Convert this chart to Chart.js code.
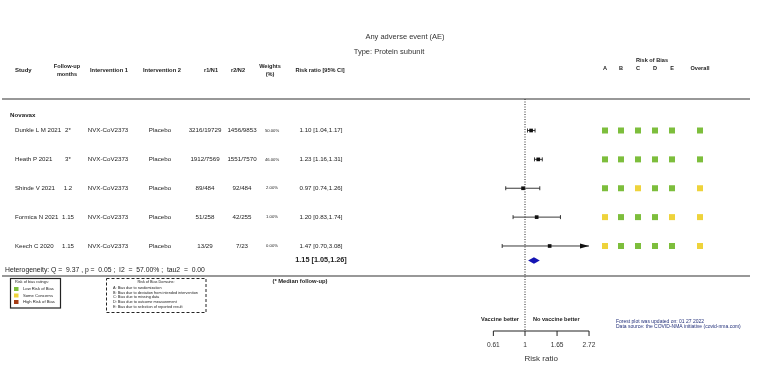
<!DOCTYPE html>
<html>
<head>
<meta charset="utf-8">
<script src="https://cdn.jsdelivr.net/npm/chart.js@4"></script>
<style>
  html, body { margin: 0; padding: 0; background: #fff; }
  #wrap { width: 760px; height: 379px; }
</style>
</head>
<body>
<div id="wrap"><canvas id="forest" width="760" height="379"></canvas></div>
<script>
// study rows
const studies = ['Dunkle L M 2021', 'Heath P 2021', 'Shinde V 2021', 'Formica N 2021', 'Keech C 2020'];
const followUp = ['2*', '3*', '1.2', '1.15', '1.15'];
const intervention1 = ['NVX-CoV2373', 'NVX-CoV2373', 'NVX-CoV2373', 'NVX-CoV2373', 'NVX-CoV2373'];
const intervention2 = ['Placebo', 'Placebo', 'Placebo', 'Placebo', 'Placebo'];
const r1N1 = ['3216/19729', '1912/7569', '89/484', '51/258', '13/29'];
const r2N2 = ['1456/9853', '1551/7570', '92/484', '42/255', '7/23'];
const weights = ['50.00%', '46.00%', '2.00%', '1.00%', '0.00%'];
const riskRatio = [1.10, 1.23, 0.97, 1.20, 1.47];
const ciLower = [1.04, 1.16, 0.74, 0.83, 0.70];
const ciUpper = [1.17, 1.31, 1.26, 1.74, 3.08];

// risk of bias per domain A-E + overall (G = low, Y = some concerns, R = high)
const robDomains = ['A', 'B', 'C', 'D', 'E', 'Overall'];
const rob = [
  ['G', 'G', 'G', 'G', 'G', 'G'],
  ['G', 'G', 'G', 'G', 'G', 'G'],
  ['G', 'G', 'Y', 'G', 'G', 'Y'],
  ['Y', 'G', 'G', 'G', 'Y', 'Y'],
  ['Y', 'G', 'G', 'G', 'G', 'Y']
];

// pooled estimate
const pooledRR = 1.15;
const pooledLower = 1.05;
const pooledUpper = 1.26;
const heterogeneity = 'Heterogeneity: Q =  9.37 , p =  0.05 ;  I2  =  57.00% ;  tau2  =  0.00';

// axis ticks (risk ratio, drawn on log scale)
const tickLabels = ['0.61', '1', '1.65', '2.72'];

const FONT = '"Liberation Sans", Arial, sans-serif';
const robColors = { G: '#7dbe3c', Y: '#eed33b', R: '#a63c14' };

function txt(ctx, s, x, y, size, align, bold, color) {
  ctx.font = (bold ? 'bold ' : '') + size + 'px ' + FONT;
  ctx.textAlign = align || 'left';
  ctx.textBaseline = 'middle';
  ctx.fillStyle = color || '#222';
  ctx.fillText(s, x, y);
}

function hline(ctx, x1, x2, y, w) {
  ctx.beginPath();
  ctx.moveTo(x1, y);
  ctx.lineTo(x2, y);
  ctx.lineWidth = w || 1;
  ctx.strokeStyle = '#333';
  ctx.stroke();
}

const forestMarks = {
  id: 'forestMarks',
  beforeDatasetsDraw(chart) {
    const ctx = chart.ctx;
    const xs = chart.scales.x, ys = chart.scales.y;
    ctx.save();
    // null line
    const x0 = xs.getPixelForValue(0);
    ctx.beginPath();
    ctx.setLineDash([1, 1.5]);
    ctx.moveTo(x0, chart.chartArea.top);
    ctx.lineTo(x0, chart.chartArea.bottom);
    ctx.strokeStyle = '#222';
    ctx.lineWidth = 1;
    ctx.stroke();
    ctx.setLineDash([]);

    // whiskers
    ctx.strokeStyle = '#222';
    ctx.fillStyle = '#111';
    ctx.lineWidth = 0.9;
    riskRatio.forEach((v, i) => {
      const y = ys.getPixelForValue(i + 1);
      const lo = Math.max(Math.log(ciLower[i]), xs.min);
      const hiRaw = Math.log(ciUpper[i]);
      const hi = Math.min(hiRaw, xs.max);
      const xl = xs.getPixelForValue(lo), xh = xs.getPixelForValue(hi);
      ctx.beginPath();
      ctx.moveTo(xl, y);
      ctx.lineTo(xh, y);
      ctx.moveTo(xl, y - 2);
      ctx.lineTo(xl, y + 2);
      if (hiRaw <= xs.max) {
        ctx.moveTo(xh, y - 2);
        ctx.lineTo(xh, y + 2);
      }
      ctx.stroke();
      if (hiRaw > xs.max) {
        ctx.beginPath();
        ctx.moveTo(xh, y);
        ctx.lineTo(xh - 9, y - 2.5);
        ctx.lineTo(xh - 9, y + 2.5);
        ctx.closePath();
        ctx.fill();
      }
    });

    // pooled diamond
    const yp = ys.getPixelForValue(riskRatio.length + 0.5);
    ctx.beginPath();
    ctx.moveTo(xs.getPixelForValue(Math.log(pooledLower)), yp);
    ctx.lineTo(xs.getPixelForValue(Math.log(pooledRR)), yp - 3.2);
    ctx.lineTo(xs.getPixelForValue(Math.log(pooledUpper)), yp);
    ctx.lineTo(xs.getPixelForValue(Math.log(pooledRR)), yp + 3.2);
    ctx.closePath();
    ctx.fillStyle = '#1414b4';
    ctx.fill();
    ctx.restore();
  },
  afterDraw(chart) {
    const ctx = chart.ctx;
    const xs = chart.scales.x, ys = chart.scales.y;
    const area = chart.chartArea;
    ctx.save();

    // titles
    txt(ctx, 'Any adverse event (AE)', 405, 37, 7.5, 'center', false, '#333');
    txt(ctx, 'Type: Protein subunit', 389, 52, 7.5, 'center', false, '#333');

    // column headers
    txt(ctx, 'Study', 15, 70, 6, 'left', true);
    txt(ctx, 'Follow-up', 67, 66, 5.6, 'center', true);
    txt(ctx, 'months', 67, 74, 5.6, 'center', true);
    txt(ctx, 'Intervention 1', 109, 70, 5.8, 'center', true);
    txt(ctx, 'Intervention 2', 162, 70, 5.8, 'center', true);
    txt(ctx, 'r1/N1', 211, 70, 5.6, 'center', true);
    txt(ctx, 'r2/N2', 238, 70, 5.6, 'center', true);
    txt(ctx, 'Weights', 270, 66, 5.6, 'center', true);
    txt(ctx, '(%)', 270, 74, 5.6, 'center', true);
    txt(ctx, 'Risk ratio [95% CI]', 320, 70, 5.6, 'center', true);

    const robX = [605, 621, 638, 655, 672, 700];
    txt(ctx, 'Risk of Bias', 652, 60, 5.6, 'center', true);
    robDomains.forEach((d, j) => txt(ctx, d, robX[j], 68.5, 5.6, 'center', true));

    hline(ctx, 2, 750, 99, 1.2);
    hline(ctx, 2, 750, 276, 1.2);

    txt(ctx, 'Novavax', 10, 115, 6.2, 'left', true);

    // study rows
    studies.forEach((s, i) => {
      const y = ys.getPixelForValue(i + 1);
      txt(ctx, s, 15, y, 6.1);
      txt(ctx, followUp[i], 68, y, 6.1, 'center');
      txt(ctx, intervention1[i], 108, y, 6.2, 'center');
      txt(ctx, intervention2[i], 160, y, 6.2, 'center');
      txt(ctx, r1N1[i], 205, y, 6.2, 'center');
      txt(ctx, r2N2[i], 242, y, 6.2, 'center');
      txt(ctx, weights[i], 272, y, 4.2, 'center');
      txt(ctx, riskRatio[i].toFixed(2) + ' [' + ciLower[i].toFixed(2) + ',' + ciUpper[i].toFixed(2) + ']', 321, y, 6.2, 'center');
      rob[i].forEach((r, j) => {
        ctx.fillStyle = robColors[r];
        ctx.fillRect(robX[j] - 3, y - 3, 6, 6);
      });
    });

    const yp = ys.getPixelForValue(riskRatio.length + 0.5);
    txt(ctx, pooledRR.toFixed(2) + ' [' + pooledLower.toFixed(2) + ',' + pooledUpper.toFixed(2) + ']', 321, yp, 7.3, 'center', true);
    txt(ctx, heterogeneity, 5, 270, 6.8, 'left', false, '#222');

    // risk of bias legend
    ctx.strokeStyle = '#222';
    ctx.lineWidth = 1.2;
    ctx.strokeRect(10.5, 278.5, 50, 29.5);
    txt(ctx, 'Risk of bias ratings:', 15, 281.8, 3.9);
    [['G', 'Low Risk of Bias', 289], ['Y', 'Some Concerns', 295.5], ['R', 'High Risk of Bias', 302]].forEach(r => {
      ctx.fillStyle = robColors[r[0]];
      ctx.fillRect(14, r[2] - 2, 4.5, 4);
      txt(ctx, r[1], 23, r[2], 4.2);
    });

    ctx.setLineDash([3, 2]);
    ctx.lineWidth = 1;
    ctx.strokeRect(106.5, 278.5, 99.5, 34);
    ctx.setLineDash([]);
    txt(ctx, 'Risk of Bias Domains:', 156, 281.8, 3.8, 'center');
    ['A: Bias due to randomization',
     'B: Bias due to deviation from intended intervention',
     'C: Bias due to missing data',
     'D: Bias due to outcome measurement',
     'E: Bias due to selection of reported result'].forEach((s, k) => {
      txt(ctx, s, 113, 288 + k * 4.7, 3.8);
    });

    txt(ctx, '(* Median follow-up)', 300, 281, 5.8, 'center', true);

    // axis
    const x0 = xs.getPixelForValue(0);
    txt(ctx, 'Vaccine better', x0 - 6, 319, 5.6, 'right', true);
    txt(ctx, 'No vaccine better', x0 + 8, 319, 5.6, 'left', true);
    const tx = tickLabels.map(t => xs.getPixelForValue(Math.log(parseFloat(t))));
    ctx.beginPath();
    ctx.moveTo(tx[0], area.bottom);
    ctx.lineTo(tx[tx.length - 1], area.bottom);
    tx.forEach(x => { ctx.moveTo(x, area.bottom); ctx.lineTo(x, area.bottom + 5); });
    ctx.strokeStyle = '#222';
    ctx.lineWidth = 1;
    ctx.stroke();
    tickLabels.forEach((t, k) => txt(ctx, t, tx[k], 345, 6.6, 'center', false, '#333'));
    txt(ctx, 'Risk ratio', (tx[0] + tx[tx.length - 1]) / 2, 359, 8, 'center', false, '#333');

    txt(ctx, 'Forest plot was updated on: 01 27 2022', 616, 322, 5, 'left', false, '#23307a');
    txt(ctx, 'Data source: the COVID-NMA initiative (covid-nma.com)', 616, 327, 5, 'left', false, '#23307a');
    ctx.restore();
  }
};

new Chart(document.getElementById('forest'), {
  type: 'scatter',
  data: {
    datasets: [{
      label: 'Risk ratio',
      data: riskRatio.map((v, i) => ({ x: Math.log(v), y: i + 1 })),
      pointStyle: 'rect',
      pointRadius: 2.6,
      backgroundColor: '#111',
      borderColor: '#111',
      borderWidth: 0
    }]
  },
  options: {
    responsive: false,
    animation: false,
    layout: { padding: { left: 493, right: 171, top: 99, bottom: 48 } },
    plugins: { legend: { display: false }, tooltip: { enabled: false } },
    scales: {
      x: { type: 'linear', min: -0.5, max: 1, display: false },
      y: { type: 'linear', min: -0.091, max: 7.944, reverse: true, display: false }
    }
  },
  plugins: [forestMarks]
});
</script>
</body>
</html>
